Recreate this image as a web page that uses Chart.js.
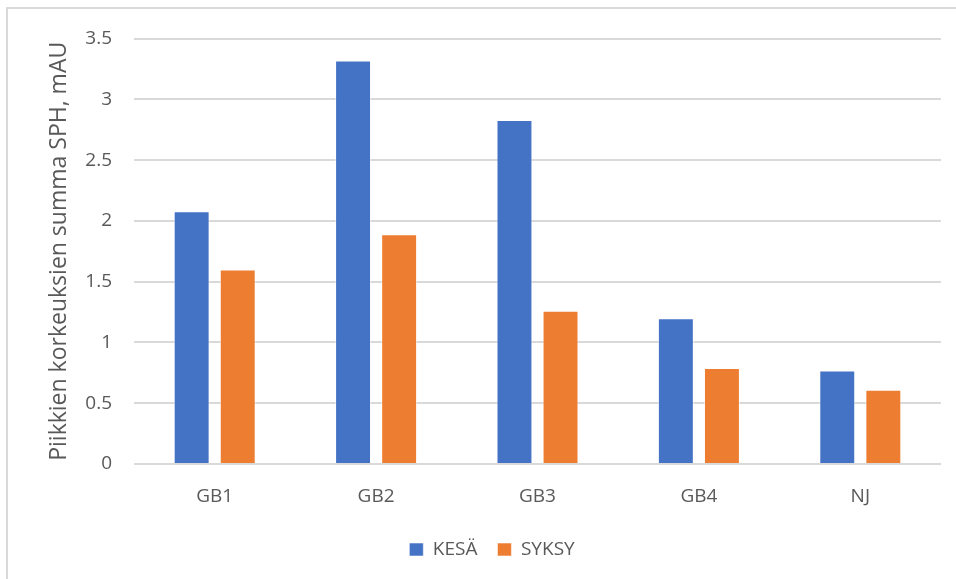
<!DOCTYPE html>
<html>
<head>
<meta charset="utf-8">
<script src="https://cdn.jsdelivr.net/npm/chart.js@4/dist/chart.umd.min.js"></script>
<style>
  html, body { margin: 0; padding: 0; background: #ffffff; }
  #frame {
    position: absolute; left: 6px; top: 7px;
    width: 950px; height: 572px;
    border-left: 2px solid #d9d9d9; border-top: 2px solid #d9d9d9;
  }
  #wrap { position: relative; width: 950px; height: 572px; }
</style>
</head>
<body>
<div id="frame"><div id="wrap"><canvas id="chart"></canvas></div></div>
<script>
// Sample sites and summed peak heights (mAU) per season
const categories = ['GB1', 'GB2', 'GB3', 'GB4', 'NJ'];
const kesa = [2.08, 3.32, 2.83, 1.20, 0.77];
const syksy = [1.60, 1.89, 1.26, 0.79, 0.61];
const seriesNames = ['KESÄ', 'SYKSY'];
const yTicks = [0, 0.5, 1, 1.5, 2, 2.5, 3, 3.5];
const yTitle = 'Piikkien korkeuksien summa SPH, mAU';

const FONT = '"Open Sans", "Noto Sans", sans-serif';
const TEXT = '#595959';
const GRID = '#d9d9d9';

new Chart(document.getElementById('chart'), {
  type: 'bar',
  data: {
    labels: categories,
    datasets: [
      { label: seriesNames[0], data: kesa, backgroundColor: '#4472C4',
        borderColor: 'rgba(255,255,255,0.55)', borderWidth: 1,
        categoryPercentage: 0.571, barPercentage: 0.78 },
      { label: seriesNames[1], data: syksy, backgroundColor: '#ED7D31',
        borderColor: 'rgba(255,255,255,0.55)', borderWidth: 1,
        categoryPercentage: 0.571, barPercentage: 0.78 }
    ]
  },
  options: {
    responsive: true,
    maintainAspectRatio: false,
    animation: false,
    layout: { padding: { top: 20, right: 17, bottom: 12, left: 35 } },
    plugins: {
      tooltip: { enabled: false },
      legend: {
        position: 'bottom',
        labels: {
          color: TEXT,
          font: { family: FONT, size: 19 },
          boxWidth: 14, boxHeight: 13,
          padding: 20
        }
      }
    },
    scales: {
      x: {
        grid: { display: false, drawTicks: false },
        border: { display: false },
        ticks: { color: TEXT, font: { family: FONT, size: 19 }, padding: 21 },
        afterFit: (axis) => { axis.height = 56; }
      },
      y: {
        min: 0, max: 3.5,
        afterBuildTicks: (axis) => { axis.ticks = yTicks.map(v => ({ value: v })); },
        grid: { color: GRID, lineWidth: 2, drawTicks: false },
        border: { display: false },
        ticks: { color: TEXT, font: { family: FONT, size: 19, lineHeight: 0.8 }, padding: 22,
                 callback: (v) => String(v) },
        title: { display: true, text: yTitle, color: TEXT,
                 font: { family: FONT, size: 23 }, padding: { top: 3, bottom: 0 } },
        afterFit: (axis) => { axis.width = 91; }
      }
    }
  }
});
</script>
</body>
</html>
